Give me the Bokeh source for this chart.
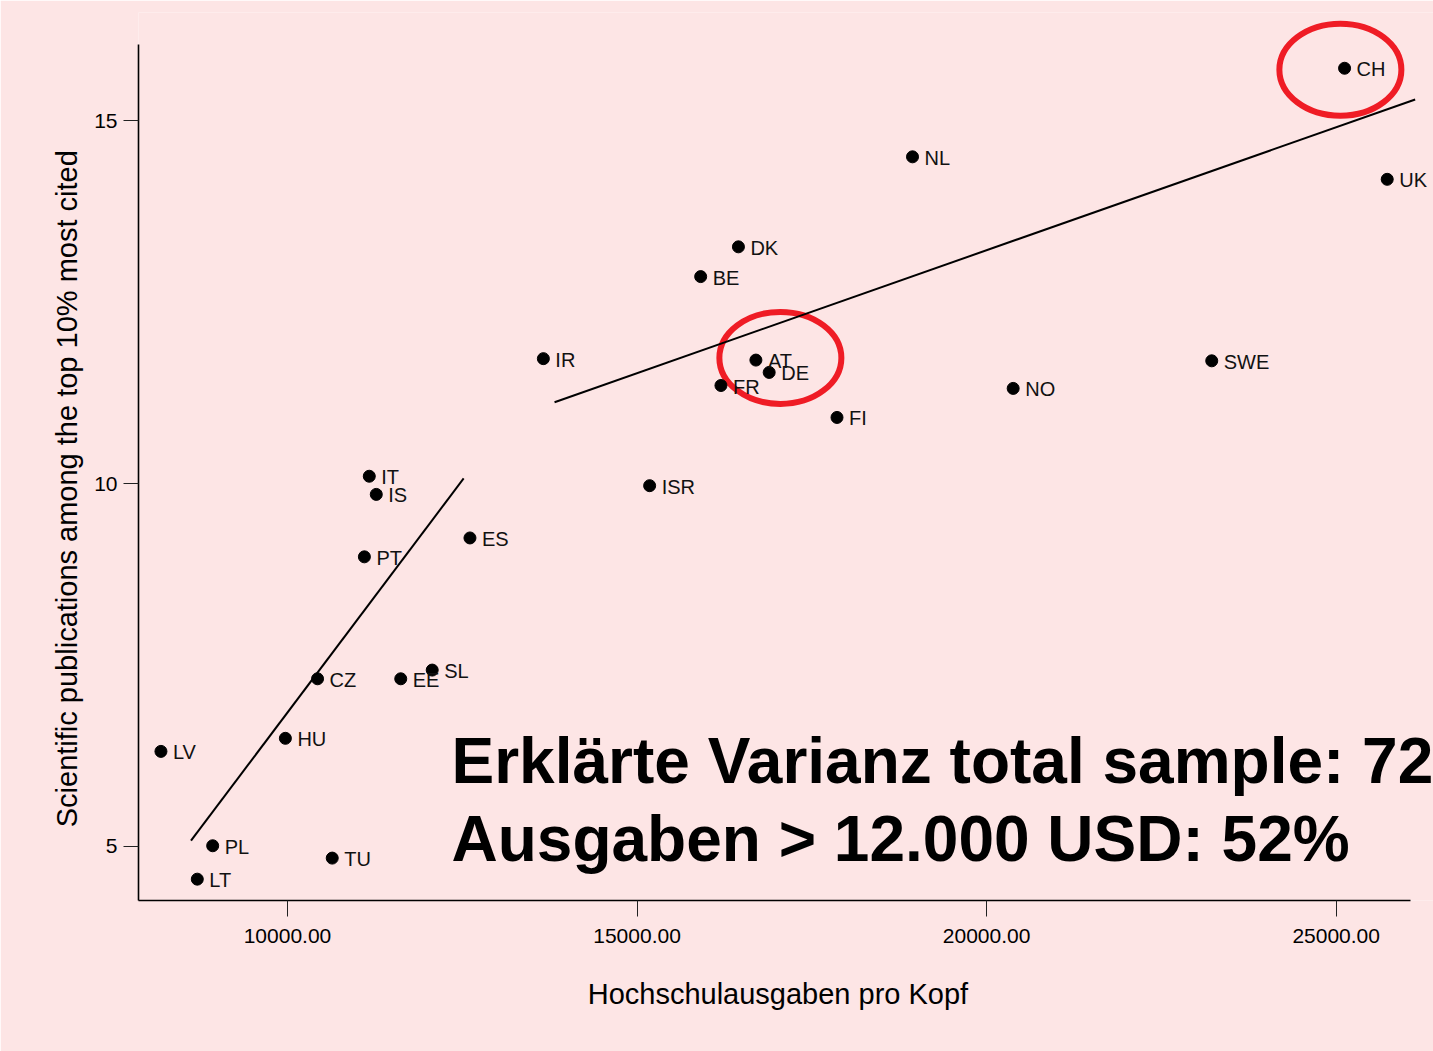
from bokeh.plotting import figure
from bokeh.models import ColumnDataSource, Range1d, FixedTicker, NumeralTickFormatter, Label
from bokeh.embed import file_html
from bokeh.resources import INLINE
from bokeh.core.properties import value

# ---- data ----
countries = ["CH", "UK", "NL", "DK", "BE", "IR", "AT", "DE", "FR", "FI", "NO", "SWE", "ISR",
             "ES", "IT", "IS", "PT", "SL", "EE", "CZ", "HU", "LV", "PL", "LT", "TU"]
spending = [25120, 25730, 18940, 16450, 15910, 13660, 16700, 16890, 16200, 17860, 20380, 23220, 15180,
            12610, 11170, 11270, 11100, 12070, 11620, 10430, 9970, 8190, 8930, 8710, 10640]
top10 = [15.72, 14.19, 14.50, 13.26, 12.85, 11.72, 11.70, 11.53, 11.35, 10.91, 11.31, 11.69, 9.97,
         9.25, 10.10, 9.85, 8.99, 7.43, 7.31, 7.31, 6.49, 6.31, 5.01, 4.55, 4.84]

fit_low_x = [8620, 12520]
fit_low_y = [5.08, 10.07]
fit_high_x = [13820, 26130]
fit_high_y = [11.12, 15.29]

highlight_x = [25060, 17050]
highlight_y = [15.70, 11.73]

x_ticks = [10000, 15000, 20000, 25000]
y_ticks = [5, 10, 15]

x_title = "Hochschulausgaben pro Kopf"
y_title = "Scientific publications among the top 10% most cited"
note_1 = "Erklärte Varianz total sample: 72"
note_2 = "Ausgaben > 12.000 USD: 52%"

BG = "#fde5e5"
FONT = "Liberation Sans"
NBSP = "\u00a0"

p = figure(width=1433, height=1051, output_backend="svg", toolbar_location=None,
           x_range=Range1d(7869, 26392), y_range=Range1d(4.256, 16.488),
           min_border_left=138, min_border_right=0, min_border_top=12, min_border_bottom=151)

p.background_fill_color = BG
p.border_fill_color = BG
p.outline_line_color = None
p.xgrid.visible = False
p.ygrid.visible = False

# axes
p.xaxis.bounds = (7869, 26063)
p.yaxis.bounds = (4.256, 16.047)
p.xaxis.ticker = FixedTicker(ticks=x_ticks, minor_ticks=[])
p.yaxis.ticker = FixedTicker(ticks=y_ticks, minor_ticks=[])
p.xaxis.formatter = NumeralTickFormatter(format="0.00")
for ax in (p.xaxis, p.yaxis):
    ax.axis_line_color = "black"
    ax.axis_line_width = 1.6
    ax.major_tick_line_color = "#222222"
    ax.major_tick_line_width = 1
    ax.major_tick_in = 0
    ax.minor_tick_in = 0
    ax.minor_tick_out = 0
    ax.major_label_text_font = FONT
    ax.major_label_text_font_size = "21px"
    ax.major_label_text_color = "black"
    ax.axis_label_text_font = FONT
    ax.axis_label_text_font_size = "29px"
    ax.axis_label_text_font_style = "normal"
    ax.axis_label_text_color = "black"
p.xaxis.major_tick_out = 16
p.yaxis.major_tick_out = 15
p.xaxis.major_label_standoff = 12
p.yaxis.major_label_standoff = 6
# trailing non-breaking spaces nudge the centred titles to where the reference has them
p.xaxis.axis_label = x_title + NBSP * 2
p.xaxis.axis_label_standoff = 32
p.yaxis.axis_label = y_title + NBSP * 8
p.yaxis.axis_label_standoff = 8

# highlight ellipses
p.ellipse(x=highlight_x, y=highlight_y, width=122, height=92,
          width_units="screen", height_units="screen",
          fill_color=None, line_color="#ef1c25", line_width=6)

# fit lines
p.line(fit_low_x, fit_low_y, line_color="black", line_width=2)
p.line(fit_high_x, fit_high_y, line_color="black", line_width=2)

# points and labels
src = ColumnDataSource(dict(x=spending, y=top10, c=countries))
p.scatter("x", "y", source=src, size=12, fill_color="black", line_color="black")
p.text("x", "y", text="c", source=src, x_offset=12, y_offset=1,
       text_baseline="middle", text_align="left",
       text_font=value(FONT), text_font_size="20px", text_color="#111111")

# annotation
for txt, yy in ((note_1, 6.171), (note_2, 5.110)):
    p.add_layout(Label(x=12346, y=yy, text=txt, text_font=FONT, text_font_size="64px",
                       text_font_style="bold", text_color="black", text_baseline="alphabetic",
                       text_align="left"))

open("out.html", "w").write(file_html(p, INLINE))
